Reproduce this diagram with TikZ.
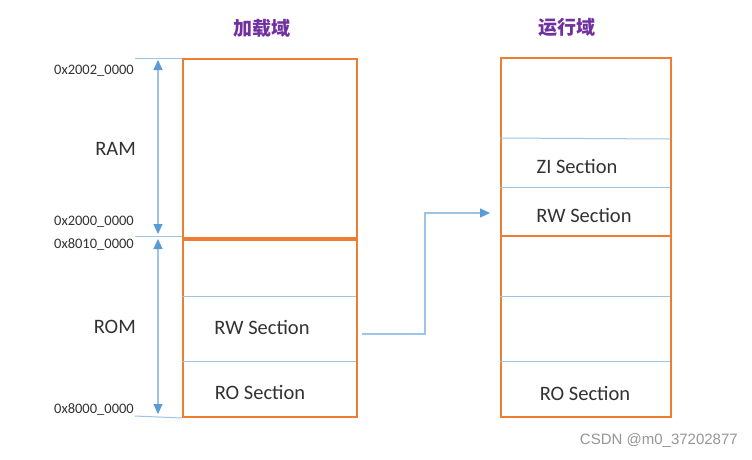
\documentclass[tikz,border=0pt]{standalone}
\usepackage{fontspec}
\setmainfont{Carlito}
\newfontfamily\cjk{Noto Sans CJK SC}
\newfontfamily\wm{Liberation Sans}
\usetikzlibrary{arrows.meta}
\definecolor{orng}{RGB}{237,125,49}
\definecolor{lblue}{RGB}{157,195,230}
\definecolor{dblue}{RGB}{91,155,213}
\definecolor{purp}{RGB}{112,48,160}
\definecolor{txt}{RGB}{50,50,50}
\begin{document}
\begin{tikzpicture}[x=1pt,y=-1pt,
  box/.style={draw=orng,line width=2pt,anchor=north west,inner sep=0pt},
  sep/.style={draw=lblue,line width=1pt},
  tick/.style={draw=lblue,line width=1pt},
  lbl/.style={font=\fontsize{20.5}{22}\selectfont,text=txt,inner sep=0pt},
  addr/.style={font=\fontsize{14.5}{16}\selectfont,text=txt,anchor=east,inner sep=0pt},
  ttl/.style={font=\cjk\bfseries\fontsize{19}{21}\selectfont,text=purp,inner sep=0pt},
  conn/.style={draw=lblue,line width=1.2pt},
  tip/.style={-{Triangle[length=10pt,width=9pt,color=dblue]}},
  dtip/.style={{Triangle[length=10pt,width=9pt,color=dblue]}-{Triangle[length=10pt,width=9pt,color=dblue]}}]
\useasboundingbox (0,0) rectangle (752,459);
\fill[white] (0,0) rectangle (752,459);
% titles
\node[ttl] (t1) at (262,28) {加载域};
\node[ttl] (t2) at (567,27) {运行域};
% left box
\node[box,minimum width=174pt,minimum height=179pt] (ram) at (182,58) {};
\node[box,minimum width=174pt,minimum height=179pt] (rom) at (182,237) {};
\draw[sep] (182,296) coordinate (l1a) -- (356,296) coordinate (l1b);
\draw[sep] (182,361) coordinate (l2a) -- (356,361) coordinate (l2b);
\draw[draw=orng,line width=3pt] (ram.south west) -- (ram.south east);
\node[lbl] (lrw) at (262,327) {RW Section};
\node[lbl] (lro) at (260,392) {RO Section};
% right box
\node[box,minimum width=170pt,minimum height=359pt] (run) at (500,57) {};
\draw[sep] (500,138) coordinate (r1a) -- (670,139) coordinate (r1b);
\draw[sep] (500,187) coordinate (r2a) -- (670,187) coordinate (r2b);
\draw[draw=orng,line width=2pt] (500,236) coordinate (r3a) -- (670,236) coordinate (r3b);
\draw[sep] (500,296) coordinate (r4a) -- (670,296) coordinate (r4b);
\draw[sep] (500,361) coordinate (r5a) -- (670,361) coordinate (r5b);
\node[lbl] (rzi) at (577,166) {ZI Section};
\node[lbl] (rrw) at (584,215) {RW Section};
\node[lbl] (rro) at (585,393) {RO Section};
% address ticks
\draw[tick] (135,58) coordinate (k1) -- (ram.north west);
\draw[tick] (135,236) coordinate (k2) -- (182,236);
\draw[tick] (135,416) coordinate (k3) -- (rom.south west);
\node[addr] (a1) at (134,71) {0x2002\_0000};
\node[addr] (a2) at (134,222) {0x2000\_0000};
\node[addr] (a3) at (134,245) {0x8010\_0000};
\node[addr] (a4) at (134,410) {0x8000\_0000};
\node[lbl,anchor=east] (ramL) at (136,149) {RAM};
\node[lbl,anchor=east] (romL) at (136,327) {ROM};
% vertical arrows
\coordinate (v1) at (158,60);
\coordinate (v2) at (158,234);
\coordinate (v3) at (158,239);
\coordinate (v4) at (158,414);
\draw[conn,dtip] (v1) -- (v2);
\draw[conn,dtip] (v3) -- (v4);
% connector
\coordinate (c1) at (362,334);
\coordinate (c2) at (490,213);
\draw[conn,tip] (c1) -- (425,334) |- (c2);
% watermark
\node[font=\wm\fontsize{15}{17}\selectfont,text={rgb,255:red,150;green,150;blue,150},anchor=east,inner sep=0pt] (wmk) at (738,441) {CSDN @m0\_37202877};
\end{tikzpicture}
\end{document}
